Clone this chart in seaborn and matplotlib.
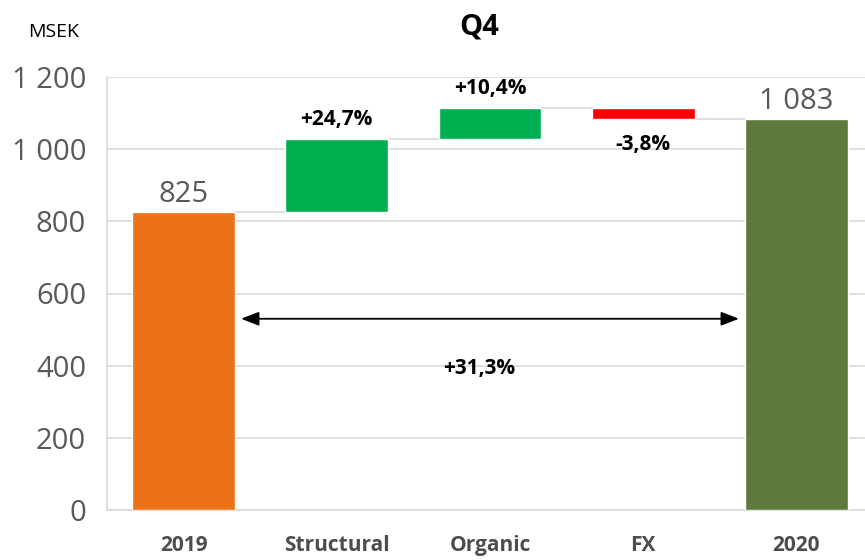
import numpy as np
import pandas as pd
import matplotlib
matplotlib.use("Agg")
import matplotlib.pyplot as plt
from matplotlib.ticker import FuncFormatter
import seaborn as sns

# chart data (MSEK, Q4)
categories = ["2019", "Structural", "Organic", "FX", "2020"]
start_value = 825
changes = [204, 86, -32]
end_value = 1083
change_pct = [24.7, 10.4, -3.8]
total_pct = 31.3
y_ticks = [0, 200, 400, 600, 800, 1000, 1200]

colors = ["#ED7117", "#00B050", "#00B050", "#FF0000", "#5E7A3A"]


def fmt_pct(v):
    return f"{v:+.1f}%".replace(".", ",")


def fmt_thousands(v, pos=None):
    return f"{int(v):,}".replace(",", " ")


# waterfall bottoms / heights
levels = np.cumsum([start_value] + changes)
bottoms = [0]
heights = [start_value]
for prev, cur in zip(levels[:-1], levels[1:]):
    bottoms.append(min(prev, cur))
    heights.append(abs(cur - prev))
bottoms.append(0)
heights.append(end_value)

df = pd.DataFrame({"category": categories, "height": heights, "bottom": bottoms})

sns.set_theme(style="white")
plt.rcParams["font.family"] = ["Open Sans", "DejaVu Sans"]

fig = plt.figure(figsize=(8.65, 5.6), dpi=100)
ax = fig.add_axes([107 / 865, 50 / 560, 766 / 865, 433 / 560])

bar_w = 0.67
sns.barplot(data=df, x="category", y="height", hue="category",
            palette=colors, width=bar_w, legend=False, ax=ax,
            saturation=1, zorder=3)

# lift the floating bars onto their bases
for cont, b in zip(ax.containers, bottoms):
    for patch in cont.patches:
        patch.set_y(b)

ax.set_xlim(-0.5, 4.5)
ax.set_ylim(0, 1200)
ax.set_yticks(y_ticks)
ax.yaxis.set_major_formatter(FuncFormatter(fmt_thousands))
ax.grid(axis="y", color="#D9D9D9", lw=1.2, zorder=0)
ax.set_axisbelow(True)
ax.set_xlabel("")
ax.set_ylabel("")
for side in ["top", "right"]:
    ax.spines[side].set_visible(False)
for side in ["left", "bottom"]:
    ax.spines[side].set_color("#D9D9D9")
    ax.spines[side].set_linewidth(1.2)

ax.tick_params(axis="y", length=0, pad=15, labelsize=21, labelcolor="#595959")
ax.tick_params(axis="x", length=0, pad=18, labelsize=15, labelcolor="#4D4D4D")
for lbl in ax.get_xticklabels():
    lbl.set_fontweight("bold")

# connector lines between bars
for i, lvl in enumerate(levels):
    ax.plot([i + bar_w / 2, i + 1 - bar_w / 2], [lvl, lvl],
            color="#D9D9D9", lw=1.2, zorder=2)

# value labels on totals
for i, v in [(0, start_value), (4, end_value)]:
    ax.annotate(fmt_thousands(v), (i, v), xytext=(0, 13), textcoords="offset points",
                ha="center", va="center", fontsize=21, color="#595959")

# percentage labels on changes
for k, (pct, chg) in enumerate(zip(change_pct, changes)):
    i = k + 1
    if chg >= 0:
        y, off = levels[k + 1], 14
    else:
        y, off = levels[k + 1], -18
    ax.annotate(fmt_pct(pct), (i, y), xytext=(0, off), textcoords="offset points",
                ha="center", va="center", fontsize=15, fontweight="bold", color="black")

# total change arrow
arrow_y = 530
ax.annotate("", xy=(4 - bar_w / 2 - 0.04, arrow_y), xytext=(bar_w / 2 + 0.04, arrow_y),
            arrowprops=dict(arrowstyle="<|-|>,head_length=0.9,head_width=0.35",
                            color="black", lw=1.3, shrinkA=0, shrinkB=0), zorder=4)
ax.text(1.93, 392, fmt_pct(total_pct), ha="center", va="center",
        fontsize=15, fontweight="bold", color="black", zorder=4)

fig.text(479 / 865, 1 - 27 / 560, "Q4", ha="center", va="center",
         fontsize=21, fontweight="bold", color="black")
fig.text(28 / 865, 1 - 32 / 560, "MSEK", ha="left", va="center",
         fontsize=14, color="black")

fig.savefig("out.png", dpi=100)
